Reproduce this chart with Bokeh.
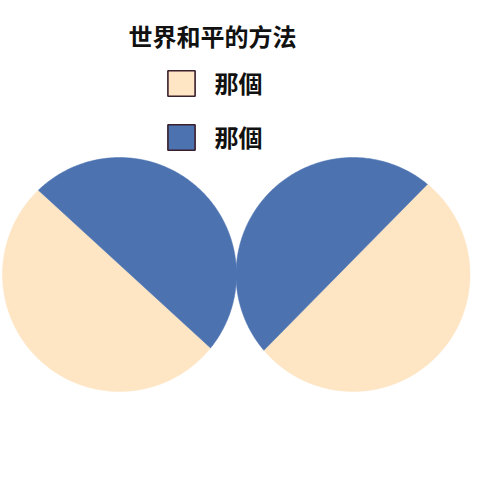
import numpy as np
from bokeh.plotting import figure
from bokeh.models import ColumnDataSource, Legend, LegendItem, Range1d
from bokeh.core.properties import value
from bokeh.embed import file_html
from bokeh.resources import INLINE

# ---- data ----
title_text = "世界和平的方法"
categories = ["那個", "那個"]
left_values = [52, 48]
right_values = [52.8, 47.2]
colors = ["#FEE5C4", "#4C73B0"]

W = H = 472
FONT = "Noto Sans CJK TC"

p = figure(width=W, height=H, output_backend="svg", toolbar_location=None,
           x_range=Range1d(0, W), y_range=Range1d(0, H),
           x_axis_location=None, y_axis_location=None, min_border=0)
p.grid.visible = False
p.outline_line_color = None
p.background_fill_color = "white"
p.border_fill_color = "white"

R = 117


def pie_source(vals, cx, cy, start_deg):
    # each slice is filled as its arc closed by a chord
    vals = np.asarray(vals, dtype=float)
    frac = vals / vals.sum()
    cum = np.concatenate([[0.0], np.cumsum(frac)])
    a0 = np.deg2rad(start_deg)
    xs, ys = [], []
    for i in range(len(vals)):
        t = np.linspace(a0 + cum[i] * 2 * np.pi, a0 + cum[i + 1] * 2 * np.pi, 200)
        xs.append(list(cx + R * np.cos(t)))
        ys.append(list(cy + R * np.sin(t)))
    return ColumnDataSource(dict(xs=xs, ys=ys, color=colors[:len(vals)],
                                 cat=categories[:len(vals)]))


src_l = pie_source(left_values, 119, 198, 133.9)
src_r = pie_source(right_values, 352.5, 198, 220.4)
for src in (src_l, src_r):
    p.patches(xs="xs", ys="ys", fill_color="color", line_color="color",
              line_width=0.5, source=src)

# legend proxies (kept outside the visible range)
items = []
for cat, col in zip(categories, colors):
    r = p.rect(x=[-1000], y=[-1000], width=1, height=1, fill_color=col,
               line_color="#3A1F2C", line_width=1.6)
    items.append(LegendItem(label=value(cat), renderers=[r]))

legend = Legend(items=items, location=(163.6, 317.6), orientation="vertical",
                glyph_width=34, glyph_height=32, label_standoff=17, spacing=19,
                padding=0, margin=0, border_line_color=None, background_fill_alpha=0,
                label_text_font=FONT, label_text_font_style="bold",
                label_text_font_size="24px", label_text_color="#111111")
p.add_layout(legend, "center")

p.text(x=[212], y=[437.5], text=[title_text], text_align="center", text_baseline="middle",
       text_font=value(FONT), text_font_style="bold", text_font_size="24px",
       text_color="#111111")

open("out.html", "w").write(file_html(p, INLINE))
